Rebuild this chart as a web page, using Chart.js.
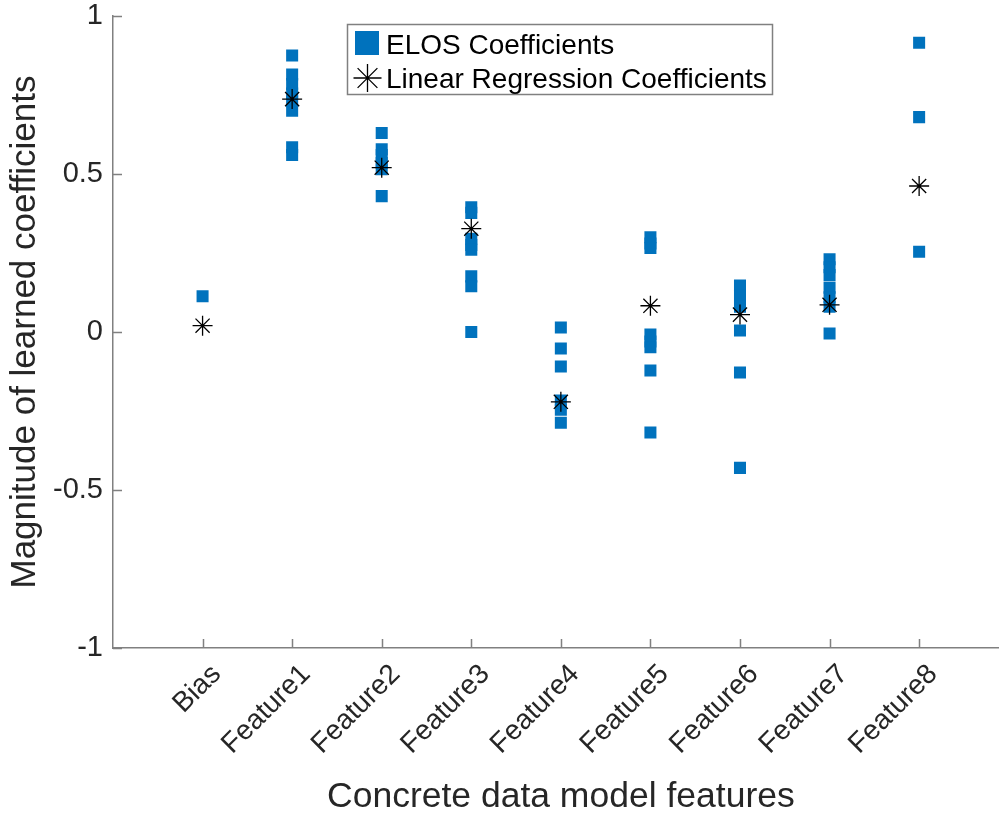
<!DOCTYPE html>
<html>
<head>
<meta charset="utf-8">
<script src="https://cdn.jsdelivr.net/npm/chart.js@4/dist/chart.umd.min.js"></script>
<style>
  html, body { margin: 0; padding: 0; background: #fff; overflow: hidden; width: 999px; height: 816px; }
  #wrap { position: relative; width: 1020px; height: 816px; }
</style>
</head>
<body>
<div id="wrap"><canvas id="c" width="1020" height="816"></canvas></div>
<script>
// Feature names along the x axis (positions 1..9)
const categories = ['Bias', 'Feature1', 'Feature2', 'Feature3', 'Feature4',
                    'Feature5', 'Feature6', 'Feature7', 'Feature8'];

// ELOS coefficients learned for each feature (one list per feature)
const elosBias     = [0.113];
const elosFeature1 = [0.875, 0.815, 0.785, 0.755, 0.73, 0.70, 0.585, 0.56];
const elosFeature2 = [0.63, 0.578, 0.56, 0.535, 0.515, 0.43];
const elosFeature3 = [0.395, 0.377, 0.295, 0.275, 0.26, 0.176, 0.145, 0.0];
const elosFeature4 = [0.014, -0.052, -0.109, -0.217, -0.246, -0.287];
const elosFeature5 = [0.30, 0.28, 0.266, -0.008, -0.03, -0.048, -0.122, -0.318];
const elosFeature6 = [0.147, 0.115, 0.08, 0.005, -0.128, -0.43];
const elosFeature7 = [0.23, 0.205, 0.18, 0.14, 0.11, 0.08, -0.005];
const elosFeature8 = [0.915, 0.68, 0.254];

// Ordinary least-squares coefficients, one per feature
const linearRegression = [0.02, 0.737, 0.52, 0.327, -0.221, 0.083, 0.055, 0.086, 0.462];

// Y axis ticks
const yTicks = [-1, -0.5, 0, 0.5, 1];
const yTickLabels = ['-1', '-0.5', '0', '0.5', '1'];

const elosGroups = [elosBias, elosFeature1, elosFeature2, elosFeature3, elosFeature4,
                    elosFeature5, elosFeature6, elosFeature7, elosFeature8];

const elosPoints = [];
elosGroups.forEach((vals, i) => vals.forEach(v => elosPoints.push({ x: i + 1, y: v })));
const lrPoints = linearRegression.map((v, i) => ({ x: i + 1, y: v }));

const FONT = '"Liberation Sans", Arial, Helvetica, sans-serif';
const AXIS_COLOR = '#808080';
const TEXT_COLOR = '#262626';
const BLUE = '#0072BD';

// Inward tick marks (MATLAB style) and the boxed legend
const axesDecor = {
  id: 'axesDecor',
  afterDraw(chart) {
    const { ctx, chartArea, scales } = chart;
    const xs = scales.x, ys = scales.y;
    ctx.save();
    ctx.strokeStyle = AXIS_COLOR;
    ctx.lineWidth = 1.5;
    ctx.beginPath();
    yTicks.forEach(t => {
      const py = Math.round(ys.getPixelForValue(t)) + 0.5;
      ctx.moveTo(chartArea.left, py);
      ctx.lineTo(chartArea.left + 9, py);
    });
    categories.forEach((c, i) => {
      const px = Math.round(xs.getPixelForValue(i + 1)) + 0.5;
      ctx.moveTo(px, chartArea.bottom);
      ctx.lineTo(px, chartArea.bottom - 9);
    });
    ctx.stroke();

    // legend box
    const bx = 347, by = 24, bw = 425, bh = 70;
    ctx.fillStyle = '#fff';
    ctx.fillRect(bx, by, bw, bh);
    ctx.strokeStyle = AXIS_COLOR;
    ctx.lineWidth = 1.5;
    ctx.strokeRect(bx + 0.5, by + 0.5, bw, bh);

    const ds = chart.data.datasets;
    ctx.fillStyle = BLUE;
    ctx.fillRect(355, 31, 24, 24);

    ctx.strokeStyle = '#000';
    ctx.lineWidth = 1.3;
    const sx = 367.5, sy = 78, r = 14;
    ctx.beginPath();
    ctx.moveTo(sx - r, sy); ctx.lineTo(sx + r, sy);
    ctx.moveTo(sx, sy - r); ctx.lineTo(sx, sy + r);
    const d = r * Math.SQRT1_2;
    ctx.moveTo(sx - d, sy - d); ctx.lineTo(sx + d, sy + d);
    ctx.moveTo(sx - d, sy + d); ctx.lineTo(sx + d, sy - d);
    ctx.stroke();

    ctx.fillStyle = '#000';
    ctx.font = '28px ' + FONT;
    ctx.textBaseline = 'alphabetic';
    ctx.textAlign = 'left';
    ctx.fillText(ds[1].label, 386, 54);
    ctx.fillText(ds[0].label, 386, 88);
    ctx.restore();
  }
};

new Chart(document.getElementById('c'), {
  type: 'scatter',
  data: {
    datasets: [
      {
        label: 'Linear Regression Coefficients',
        data: lrPoints,
        pointStyle: 'star',
        pointRadius: 10,
        borderColor: '#000',
        backgroundColor: '#000',
        borderWidth: 1.3,
        order: 0
      },
      {
        label: 'ELOS Coefficients',
        data: elosPoints,
        pointStyle: 'rect',
        pointRadius: 8.5,
        borderWidth: 0,
        backgroundColor: BLUE,
        borderColor: BLUE,
        order: 1
      }
    ]
  },
  options: {
    responsive: false,
    animation: false,
    devicePixelRatio: 1,
    layout: { padding: { top: 16, right: 0, left: 0, bottom: 0 } },
    plugins: { legend: { display: false }, tooltip: { enabled: false } },
    elements: { point: { hoverRadius: 10 } },
    scales: {
      x: {
        type: 'linear',
        min: 0,
        max: 10,
        grid: { display: true, drawOnChartArea: false, drawTicks: false },
        border: { display: true, color: AXIS_COLOR, width: 1.5 },
        ticks: {
          stepSize: 1,
          autoSkip: false,
          minRotation: 45,
          maxRotation: 45,
          padding: 10,
          labelOffset: 14,
          color: TEXT_COLOR,
          font: { family: FONT, size: 28 },
          callback: v => categories[v - 1] || ''
        },
        title: {
          display: true,
          text: 'Concrete data model features',
          color: TEXT_COLOR,
          font: { family: FONT, size: 35.5 },
          padding: { top: 0, bottom: -3 }
        },
        afterFit: s => { s.height = 168; s.paddingLeft = 0; s.paddingRight = 0; }
      },
      y: {
        min: -1,
        max: 1,
        grid: { display: true, drawOnChartArea: false, drawTicks: false },
        border: { display: true, color: AXIS_COLOR, width: 1.5 },
        ticks: {
          stepSize: 0.5,
          padding: 10,
          color: TEXT_COLOR,
          font: { family: FONT, size: 29 },
          callback: v => {
            const k = yTicks.indexOf(v);
            return k >= 0 ? yTickLabels[k] : '';
          }
        },
        title: {
          display: true,
          text: 'Magnitude of learned coefficients',
          color: TEXT_COLOR,
          font: { family: FONT, size: 35 },
          padding: { top: 4, bottom: 0 }
        },
        afterFit: s => { s.width = 113; s.paddingTop = 0; s.paddingBottom = 0; }
      }
    }
  },
  plugins: [axesDecor]
});
</script>
</body>
</html>
